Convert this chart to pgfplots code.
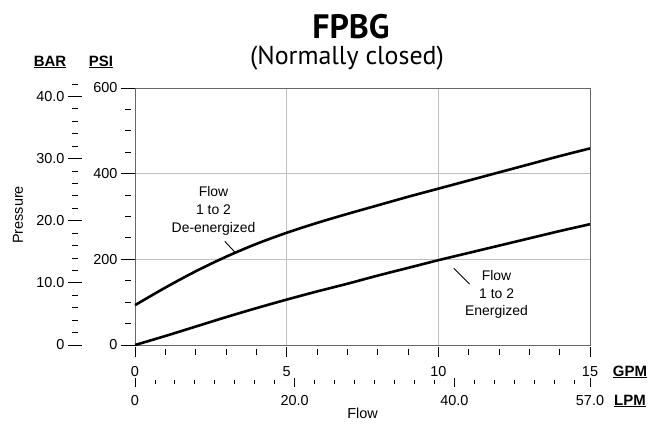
\documentclass[border=0pt]{standalone}
\usepackage{fontspec}
\setmainfont{Liberation Sans}
\newfontfamily\titlefont{PT Sans}
\usepackage{pgfplots}
\pgfplotsset{compat=1.18}

\newcommand\lbl{\fontsize{14.5}{17}\selectfont}
\newcommand\unit{\fontsize{15}{17}\selectfont\bfseries}

\pgfplotsset{
  sidescale/.style={
    scale only axis, anchor=south west,
    tick align=outside,
    tick style={black, line width=0.9bp},
    /pgf/number format/assume math mode=true,
    ticklabel style={font=\lbl},
  },
}

\begin{document}
\begin{tikzpicture}[x=1bp,y=1bp]
\useasboundingbox (0,0) rectangle (660,423);

% plot box with the two curves
\begin{axis}[
  at={(135bp,78bp)}, anchor=south west,
  scale only axis, width=455bp, height=257bp,
  xmin=0, xmax=15, ymin=0, ymax=600,
  xtick={5,10}, ytick={200,400},
  xticklabels={}, yticklabels={},
  major tick length=0pt,
  grid=major, grid style={black!25, line width=0.7bp},
  axis line style={black!60, line width=0.9bp},
  clip=false,
]
% Flow 1 to 2, de-energized
\addplot[line width=2.6bp, smooth] coordinates {
  (0,93) (1,134) (2,172) (3,206) (4,236) (5,262) (6,285) (7,306)
  (8,326) (9,346) (10,365) (11,384) (12,403) (13,422) (14,441) (15,459)
};
% Flow 1 to 2, energized
\addplot[line width=2.6bp, smooth] coordinates {
  (0,0) (1,21) (2,43) (3,65) (4,86) (5,106) (6,125) (7,143)
  (8,162) (9,180) (10,198) (11,215) (12,232) (13,249) (14,266) (15,282)
};
\draw[line width=0.9bp] (axis cs:2.96,242) -- (axis cs:3.33,214);
\node[align=center, font=\fontsize{14}{18}\selectfont] at (axis cs:2.59,314)
  {Flow\\1 to 2\\De-energized};
\draw[line width=0.9bp] (axis cs:10.51,179) -- (axis cs:11.03,142);
\node[align=center, font=\fontsize{14}{18}\selectfont] at (axis cs:11.92,118)
  {Flow\\1 to 2\\Energized};
\end{axis}

% PSI scale
\begin{axis}[
  sidescale, at={(128bp,78bp)}, width=5bp, height=257bp,
  xmin=0, xmax=1, ymin=0, ymax=600,
  hide x axis, axis y line=left, y axis line style={draw=none,-},
  ytick={0,200,400,600}, yticklabels={0,200,400,600},
  minor ytick={50,100,150,250,300,350,450,500,550},
  major tick length=14bp, minor tick length=6bp,
]
\addplot[draw=none] coordinates {(0,0)};
\end{axis}

% BAR scale
\begin{axis}[
  sidescale, at={(75bp,78bp)}, width=5bp, height=260.9bp,
  xmin=0, xmax=1, ymin=0, ymax=42,
  hide x axis, axis y line=left, y axis line style={draw=none,-},
  ytick={0,10,20,30,40}, yticklabels={0,10.0,20.0,30.0,40.0},
  minor ytick={2,4,6,8,12,14,16,18,22,24,26,28,32,34,36,38,42},
  major tick length=14bp, minor tick length=6bp,
]
\addplot[draw=none] coordinates {(0,0)};
\end{axis}

% GPM scale
\begin{axis}[
  sidescale, at={(135bp,71bp)}, width=455bp, height=5bp,
  xmin=0, xmax=15, ymin=0, ymax=1,
  hide y axis, axis x line=bottom, x axis line style={draw=none,-},
  xtick={0,5,10,15}, xticklabels={0,5,10,15},
  minor xtick={1,2,3,4,6,7,8,9,11,12,13,14},
  major tick length=10bp, minor tick length=5.5bp,
  xticklabel style={yshift=-6bp},
]
\addplot[draw=none] coordinates {(0,0)};
\end{axis}

% LPM scale
\begin{axis}[
  sidescale, at={(135bp,41bp)}, width=455bp, height=5bp,
  xmin=0, xmax=57, ymin=0, ymax=1,
  hide y axis, axis x line=bottom, x axis line style={draw=none,-},
  xtick={0,20,40,57}, xticklabels={0,20.0,40.0,57.0},
  minor xtick={2.5,5,7.5,10,12.5,15,17.5,22.5,25,27.5,30,32.5,35,37.5,42.5,45,47.5,50,52.5,55},
  major tick length=9bp, minor tick length=4.5bp,
  xticklabel style={yshift=-5bp},
]
\addplot[draw=none] coordinates {(0,0)};
\end{axis}

% titles and unit labels
\node[font=\titlefont\bfseries\fontsize{34}{40}\selectfont] at (351,396) {FPBG};
\node[font=\titlefont\fontsize{26}{30}\selectfont] at (347,365) {(Normally closed)};
\node[font=\unit] at (50,361) {\underline{BAR}};
\node[font=\unit] at (101,361) {\underline{PSI}};
\node[font=\unit] at (630,51) {\underline{GPM}};
\node[font=\unit] at (630,22) {\underline{LPM}};
\node[font=\lbl] at (362.5,9.5) {Flow};
\node[font=\lbl, rotate=90] at (18,208) {Pressure};
\end{tikzpicture}
\end{document}
